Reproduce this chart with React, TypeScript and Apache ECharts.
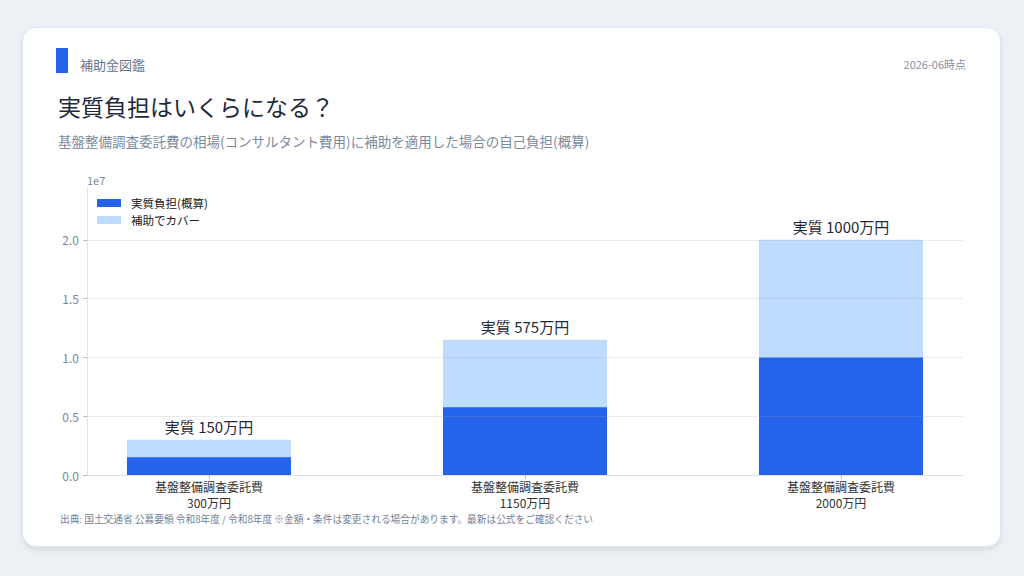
import { useEffect, useRef } from 'react'
import * as echarts from 'echarts'

const CATEGORIES = ['基盤整備調査委託費', '基盤整備調査委託費', '基盤整備調査委託費']
const TOTAL_COST = [3000000, 11500000, 20000000]
const SELF_BURDEN = [1500000, 5750000, 10000000]
const Y_TICKS = [0, 5000000, 10000000, 15000000, 20000000]
const X_POS = [0, 1, 2]
const SERIES_NAMES = ['実質負担(概算)', '補助でカバー']

const FONT = '"Noto Sans CJK JP", "Noto Sans", sans-serif'
const BLUE = '#2563eb'
const LIGHT = '#bfdbfe'
const AXIS = '#dde3eb'
const MUTED = '#7b8798'

const man = (v: number) => `${Math.round(v / 1e4)}万円`

export default function App() {
  const elRef = useRef<HTMLDivElement>(null)

  useEffect(() => {
    if (!elRef.current) return
    const chart = echarts.init(elRef.current, undefined, { renderer: 'svg' })

    const xBase = { type: 'value', min: -0.386, max: 2.386, position: 'bottom', splitLine: { show: false } }

    chart.setOption({
      animation: false,
      backgroundColor: 'transparent',
      textStyle: { fontFamily: FONT },
      graphic: [
        { type: 'rect', shape: { x: 56, y: 48, width: 12, height: 25 }, style: { fill: BLUE } },
        {
          type: 'text', x: 80, y: 64,
          style: { text: '補助金図鑑', fontSize: 13, fill: '#64748b', fontFamily: FONT, verticalAlign: 'middle' },
        },
        {
          type: 'text', x: 966, y: 64,
          style: { text: '2026-06時点', fontSize: 11, fill: '#8391a5', fontFamily: FONT, align: 'right', verticalAlign: 'middle' },
        },
        {
          type: 'text', x: 58, y: 106,
          style: { text: '実質負担はいくらになる？', fontSize: 23, fill: '#1e293b', fontFamily: FONT, verticalAlign: 'middle' },
        },
        {
          type: 'text', x: 58, y: 141,
          style: {
            text: '基盤整備調査委託費の相場(コンサルタント費用)に補助を適用した場合の自己負担(概算)',
            fontSize: 13.5, fill: '#7c8aa0', fontFamily: FONT, verticalAlign: 'middle',
          },
        },
        {
          type: 'text', x: 60, y: 519,
          style: {
            text: '出典: 国土交通省 公募要領 令和8年度 / 令和8年度 ※金額・条件は変更される場合があります。最新は公式をご確認ください',
            fontSize: 9.7, fill: '#718096', fontFamily: FONT, verticalAlign: 'middle',
          },
        },
      ],
      legend: {
        data: SERIES_NAMES,
        orient: 'vertical',
        left: 97,
        top: 196,
        padding: 0,
        itemWidth: 24,
        itemHeight: 8,
        itemGap: 3,
        icon: 'rect',
        textStyle: { fontSize: 11.5, color: '#222', lineHeight: 14, padding: [0, 0, 0, 5], fontFamily: FONT },
      },
      grid: { left: 87, right: 61, top: 188, bottom: 101 },
      xAxis: [
        {
          ...xBase,
          axisLine: { show: true, onZero: false, lineStyle: { color: AXIS } },
          axisTick: { show: true, customValues: X_POS, length: 4, lineStyle: { color: '#b8c0cc' } },
          axisLabel: {
            customValues: X_POS,
            margin: 5,
            fontSize: 12,
            color: '#333',
            fontFamily: FONT,
            formatter: (v: number) => CATEGORIES[Math.round(v)],
          },
        },
        {
          // second label line: total cost under each category
          ...xBase,
          axisLine: { show: false, onZero: false },
          axisTick: { show: false },
          axisLabel: {
            customValues: X_POS,
            margin: 21,
            fontSize: 12,
            color: '#333',
            fontFamily: FONT,
            formatter: (v: number) => man(TOTAL_COST[Math.round(v)]),
          },
        },
      ],
      yAxis: {
        type: 'value',
        min: 0,
        max: 24400000,
        name: '1e7',
        nameLocation: 'end',
        nameGap: 3,
        nameTextStyle: { align: 'left', fontSize: 11, color: MUTED, fontFamily: FONT },
        splitLine: { show: false },
        axisLine: { show: true, onZero: false, lineStyle: { color: AXIS } },
        axisTick: { show: true, customValues: Y_TICKS, length: 4, lineStyle: { color: '#b8c0cc' } },
        axisLabel: {
          customValues: Y_TICKS,
          margin: 8,
          fontSize: 12,
          color: MUTED,
          fontFamily: FONT,
          formatter: (v: number) => (v / 1e7).toFixed(1),
        },
      },
      series: [
        {
          // full cost drawn behind; the self-burden bar covers its lower part
          name: SERIES_NAMES[1],
          type: 'bar',
          barWidth: 164,
          barGap: '-100%',
          itemStyle: { color: LIGHT },
          data: TOTAL_COST.map((v, i) => [X_POS[i], v]),
          label: {
            show: true,
            position: 'top',
            distance: 6,
            fontSize: 15,
            color: '#1f2937',
            fontFamily: FONT,
            formatter: (p: any) => `実質 ${man(SELF_BURDEN[p.dataIndex])}`,
          },
        },
        {
          name: SERIES_NAMES[0],
          type: 'bar',
          barWidth: 164,
          barGap: '-100%',
          itemStyle: { color: BLUE },
          data: SELF_BURDEN.map((v, i) => [X_POS[i], v]),
          markLine: {
            silent: true,
            symbol: 'none',
            label: { show: false },
            lineStyle: { color: 'rgba(148,163,184,0.22)', width: 1, type: 'solid' },
            data: Y_TICKS.slice(1).map((v) => ({ yAxis: v })),
          },
        },
      ],
    })

    return () => chart.dispose()
  }, [])

  return (
    <div style={{ position: 'fixed', left: 0, top: 0, width: 1024, height: 576, background: '#edf1f6' }}>
      <div
        style={{
          position: 'absolute', left: 22, top: 27, width: 977, height: 518,
          background: '#fff', borderRadius: 14, border: '1px solid #e1e7ef',
          boxShadow: '0 3px 5px rgba(30,41,59,0.10)',
        }}
      />
      <div ref={elRef} style={{ position: 'absolute', left: 0, top: 0, width: 1024, height: 576 }} />
    </div>
  )
}
